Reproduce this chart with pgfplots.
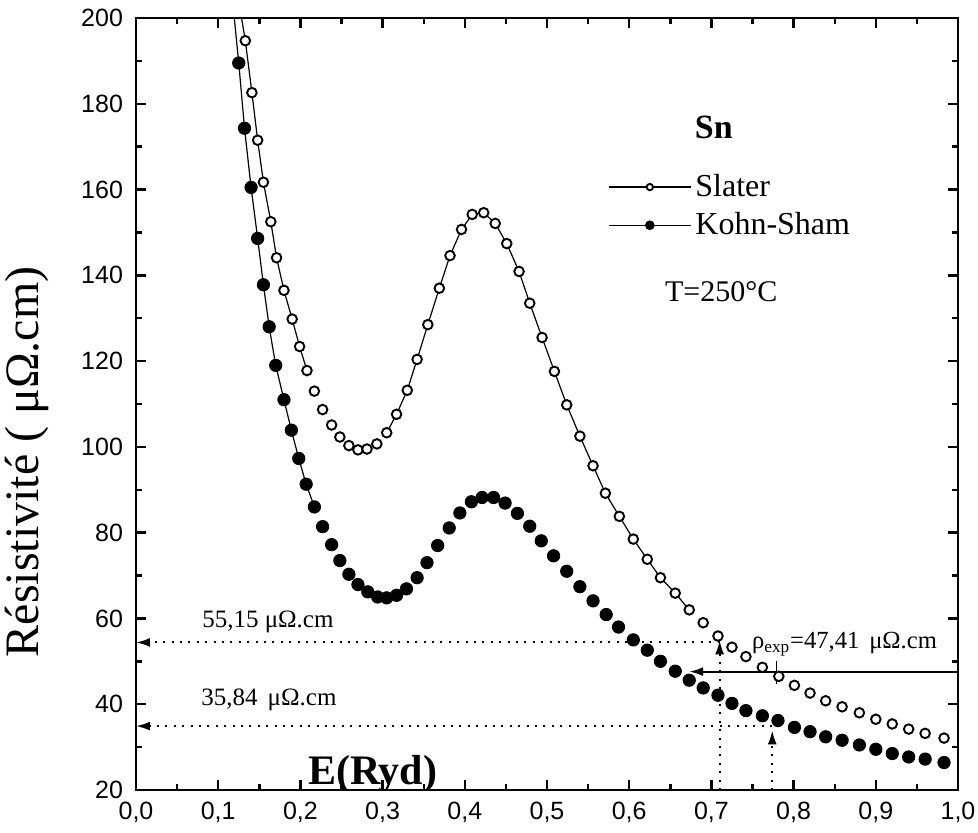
\documentclass[border=0pt]{standalone}
\usepackage{fontspec}
\setmainfont{Liberation Serif}
\newfontfamily\sansf{Liberation Sans}
\usepackage{pgfplots}
\pgfplotsset{compat=1.18}
\usetikzlibrary{arrows.meta}

\pgfplotsset{
 legline/.style={legend image code/.code={\draw[line width=0.6pt] (0pt,0pt) -- (41pt,0pt);
     \draw[##1, mark size=#1] plot coordinates {(20.5pt,0pt)};}},
}

\pgfplotstableread{
x y
0.124 205
0.133 194.7
0.141 182.6
0.148 171.5
0.155 161.7
0.164 152.5
0.171 144.1
0.180 136.5
0.190 129.8
0.199 123.4
0.208 117.8
0.217 113.0
0.227 108.7
0.238 105.1
0.248 102.3
0.259 100.3
0.270 99.3
0.281 99.5
0.293 100.7
0.305 103.3
0.317 107.6
0.330 113.2
0.342 120.4
0.355 128.5
0.369 137.0
0.382 144.6
0.396 150.7
0.409 154.2
0.423 154.6
0.437 152.1
0.451 147.4
0.466 140.9
0.479 133.5
0.494 125.5
0.509 117.6
0.524 109.8
0.540 102.5
0.556 95.6
0.571 89.2
0.588 83.8
0.605 78.5
0.622 73.8
0.638 69.5
0.656 65.9
0.673 62.0
0.690 59.0
0.708 55.9
0.725 53.3
0.742 51.1
0.762 48.6
0.782 46.5
0.801 44.4
0.820 42.6
0.839 40.8
0.859 39.4
0.880 38.0
0.900 36.5
0.920 35.4
0.940 34.2
0.960 33.2
0.983 32.1
}\slater

\pgfplotstableread{
x y
0.117 205
0.125 189.5
0.132 174.3
0.140 160.5
0.148 148.6
0.155 137.8
0.162 128.0
0.170 119.0
0.180 111.0
0.189 103.9
0.198 97.3
0.207 91.3
0.217 86.0
0.227 81.4
0.238 77.2
0.248 73.5
0.259 70.3
0.270 67.9
0.282 66.2
0.294 65.0
0.305 64.8
0.317 65.4
0.329 66.9
0.342 69.5
0.354 73.0
0.367 77.0
0.381 81.1
0.394 84.6
0.408 87.2
0.421 88.2
0.435 88.2
0.449 86.9
0.464 84.5
0.479 81.5
0.493 78.1
0.508 74.6
0.524 71.0
0.540 67.4
0.556 64.1
0.572 60.9
0.587 58.0
0.605 55.0
0.622 52.6
0.638 50.0
0.656 47.7
0.673 45.6
0.690 43.8
0.708 42.1
0.725 40.2
0.742 38.5
0.762 37.3
0.781 36.2
0.801 34.6
0.820 33.6
0.839 32.4
0.859 31.6
0.880 30.5
0.900 29.5
0.920 28.5
0.940 27.7
0.960 27.2
0.983 26.4
}\kohn

\begin{document}
\begin{tikzpicture}
\begin{axis}[
 scale only axis, width=411pt, height=386pt,
 xmin=0, xmax=1, ymin=20, ymax=200,
 xtick={0,0.1,0.2,0.3,0.4,0.5,0.6,0.7,0.8,0.9,1},
 ytick={20,40,60,80,100,120,140,160,180,200},
 minor x tick num=1, minor y tick num=1,
 tick align=inside,
 major tick length=5pt, minor tick length=3pt,
 axis line style={line width=1.4pt},
 major tick style={draw=black, line width=1.2pt},
 minor tick style={draw=black, line width=1.2pt},
 /pgf/number format/assume math mode=true,
 ticklabel style={font=\sansf\fontsize{12.5}{14}\selectfont},
 xticklabel style={yshift=-2.5pt, /pgf/number format/fixed, /pgf/number format/fixed zerofill,
    /pgf/number format/precision=1, /pgf/number format/use comma},
 yticklabel style={xshift=-3pt, /pgf/number format/fixed, /pgf/number format/precision=0},
 ylabel={Résistivité ( μΩ.cm)},
 ylabel style={font=\fontsize{24}{28}\selectfont, at={(axis description cs:-0.1326,0.425)}, anchor=center},
 legend cell align=left,
 legend style={at={(axis description cs:0.574,0.803)}, anchor=north west, draw=none, fill=none,
   font=\fontsize{16}{19}\selectfont, row sep=2.5pt, inner sep=0pt},
]
% connecting line segments (visible only where markers are far apart)
\addplot[forget plot, black, line width=0.6pt, restrict x to domain=0:0.21] table[x=x,y=y] {\slater};
\addplot[forget plot, black, line width=0.6pt, restrict x to domain=0.30:0.675] table[x=x,y=y] {\slater};
\addplot[forget plot, black, line width=0.6pt, restrict x to domain=0:0.22] table[x=x,y=y] {\kohn};
% markers
\addplot[only marks, mark=*, mark size=2.4pt, mark options={fill=white, draw=black, line width=0.95pt},
  legline=1.6pt]
  table[x=x,y=y] {\slater};
\addlegendentry{Slater}
\addplot[only marks, mark=*, mark size=3.1pt, mark options={fill=black, draw=black},
  legline=2.2pt]
  table[x=x,y=y] {\kohn};
\addlegendentry{Kohn-Sham}

% annotations
\draw[line width=1pt, dash pattern=on 1pt off 3.2pt, -{Latex[length=7pt,width=4.5pt]}] (axis cs:0.710,54.4) -- (axis cs:0,54.4);
\draw[line width=1pt, dash pattern=on 1pt off 3.2pt, -{Latex[length=7pt,width=4.5pt]}] (axis cs:0.774,34.9) -- (axis cs:0,34.9);
\draw[line width=1pt, dash pattern=on 1pt off 3.2pt, -{Latex[length=7pt,width=4.5pt]}] (axis cs:0.710,20) -- (axis cs:0.710,54.9);
\draw[line width=1pt, dash pattern=on 1pt off 3.2pt, -{Latex[length=7pt,width=4.5pt]}] (axis cs:0.774,20) -- (axis cs:0.774,33.9);
\draw[line width=1.1pt, -{Latex[length=7pt,width=4.5pt]}] (axis cs:1,47.6) -- (axis cs:0.673,47.6);
\draw[line width=0.8pt] (axis cs:0.779,50.0) -- (axis cs:0.779,44.6);

\node[anchor=west, font=\fontsize{12.5}{14}\selectfont] at (axis cs:0.072,59.2) {55,15 μΩ.cm};
\node[anchor=west, font=\fontsize{12.5}{14}\selectfont] at (axis cs:0.071,40.9) {35,84\hspace{0.4em}μΩ.cm};
\node[anchor=west, font=\fontsize{12.3}{14}\selectfont, inner sep=0pt] at (axis cs:0.749,54.0) {ρ\textsubscript{exp}=47,41\hspace{0.4em}μΩ.cm};
\node[font=\bfseries\fontsize{17}{20}\selectfont] at (axis cs:0.703,174.5) {Sn};
\node[font=\fontsize{15}{18}\selectfont] at (axis cs:0.712,136.3) {T=250°C};
\node[font=\bfseries\fontsize{21}{24}\selectfont] at (axis cs:0.288,23.6) {E(Ryd)};
\end{axis}
\pgfresetboundingbox
\path[use as bounding box] (-68pt,-21.5pt) rectangle (421pt,395pt);
\end{tikzpicture}
\end{document}
